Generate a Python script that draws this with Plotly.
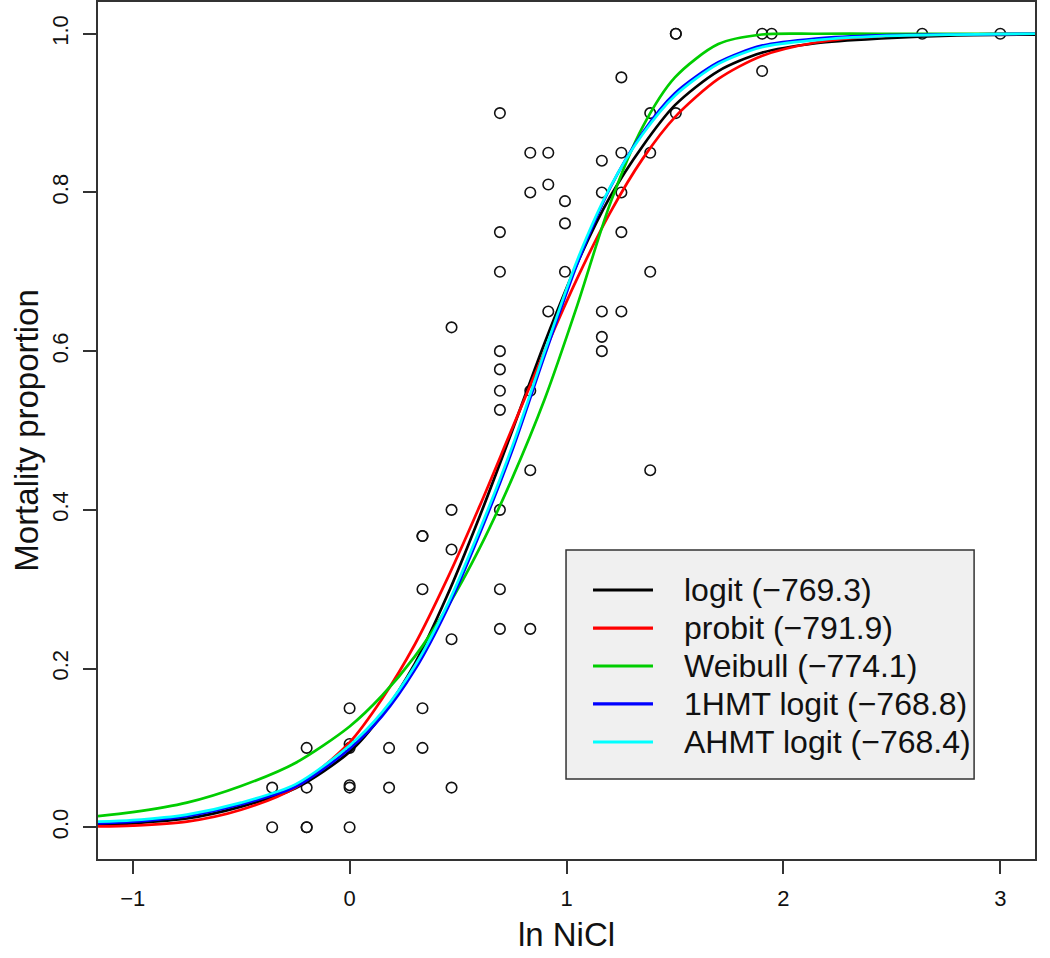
import plotly.graph_objects as go

# ---- observed data (ln NiCl concentration, mortality proportion) ----
obs_x = [
    -0.357, -0.357,
    -0.198, -0.198, -0.198, -0.198,
    0.0, 0.0, 0.0, 0.0, 0.0, 0.0,
    0.182, 0.182,
    0.336, 0.336, 0.336, 0.336, 0.336,
    0.470, 0.470, 0.470, 0.470, 0.470,
    0.693, 0.693, 0.693, 0.693, 0.693, 0.693, 0.693, 0.693, 0.693, 0.693,
    0.833, 0.833, 0.833, 0.833, 0.833,
    0.916, 0.916, 0.916,
    0.993, 0.993, 0.993,
    1.163, 1.163, 1.163, 1.163, 1.163,
    1.253, 1.253, 1.253, 1.253, 1.253,
    1.386, 1.386, 1.386, 1.386,
    1.504, 1.504, 1.504,
    1.902, 1.902,
    1.946,
    2.640,
    3.000,
]
obs_y = [
    0.05, 0.0,
    0.10, 0.05, 0.0, 0.0,
    0.15, 0.10, 0.105, 0.05, 0.053, 0.0,
    0.10, 0.05,
    0.367, 0.367, 0.30, 0.15, 0.10,
    0.63, 0.40, 0.35, 0.237, 0.05,
    0.90, 0.75, 0.70, 0.60, 0.577, 0.55, 0.526, 0.40, 0.30, 0.25,
    0.85, 0.80, 0.55, 0.45, 0.25,
    0.85, 0.81, 0.65,
    0.789, 0.761, 0.70,
    0.84, 0.80, 0.65, 0.618, 0.60,
    0.945, 0.85, 0.80, 0.75, 0.65,
    0.90, 0.85, 0.70, 0.45,
    1.0, 1.0, 0.90,
    1.0, 0.953,
    1.0,
    1.0,
    1.0,
]

# ---- fitted curves at these x positions ----
curve_x = [-1.16, -1.0, -0.75, -0.5, -0.25, 0.0, 0.15, 0.3, 0.45, 0.6, 0.75,
           0.9, 1.05, 1.2, 1.35, 1.5, 1.7, 1.9, 2.15, 2.45, 2.8, 3.16]

logit_y = [0.003, 0.005, 0.011, 0.026, 0.049, 0.095, 0.142, 0.206, 0.292, 0.392, 0.50,
           0.611, 0.711, 0.794, 0.858, 0.910, 0.953, 0.976, 0.988, 0.994, 0.998, 0.999]
probit_y = [0.001, 0.002, 0.007, 0.022, 0.050, 0.107, 0.162, 0.230, 0.313, 0.405, 0.503,
            0.60, 0.692, 0.774, 0.842, 0.895, 0.943, 0.972, 0.989, 0.997, 0.999, 1.0]
weibull_y = [0.014, 0.019, 0.031, 0.052, 0.081, 0.127, 0.166, 0.215, 0.277, 0.352, 0.44,
             0.54, 0.658, 0.785, 0.882, 0.945, 0.987, 0.999, 1.0, 1.0, 1.0, 1.0]
hmt1_y = [0.005, 0.007, 0.014, 0.029, 0.051, 0.099, 0.140, 0.198, 0.275, 0.37, 0.475,
          0.595, 0.71, 0.805, 0.875, 0.925, 0.964, 0.985, 0.994, 0.998, 0.999, 1.0]
ahmt_y = [0.007, 0.009, 0.016, 0.031, 0.054, 0.103, 0.145, 0.203, 0.28, 0.375, 0.48,
          0.60, 0.715, 0.806, 0.873, 0.922, 0.962, 0.983, 0.992, 0.997, 0.999, 1.0]

curve_names = ["logit (\u2212769.3)", "probit (\u2212791.9)", "Weibull (\u2212774.1)",
               "1HMT logit (\u2212768.8)", "AHMT logit (\u2212768.4)"]
curve_vals = [logit_y, probit_y, weibull_y, hmt1_y, ahmt_y]
curve_colors = ["#000000", "#ff0000", "#00cd00", "#0000ff", "#00ffff"]

x_ticks = [-1, 0, 1, 2, 3]
x_ticktext = ["\u22121", "0", "1", "2", "3"]
y_ticks = [0.0, 0.2, 0.4, 0.6, 0.8, 1.0]

FONT = "Liberation Sans, Arial, sans-serif"

fig = go.Figure()
fig.add_trace(go.Scatter(
    x=obs_x, y=obs_y, mode="markers", showlegend=False,
    marker=dict(symbol="circle-open", size=10.5, color="#111111", line=dict(width=1.6)),
))
for name, vals, col in zip(curve_names, curve_vals, curve_colors):
    fig.add_trace(go.Scatter(
        x=curve_x, y=vals, mode="lines", name=name, showlegend=False,
        line=dict(color=col, width=2.7, shape="spline", smoothing=0.8),
    ))

# ---- legend box drawn as in the R figure (frame, key lines, labels) ----
leg_x0, leg_x1, leg_y0, leg_y1 = 0.4995, 0.935, 0.0933, 0.3606
key_x0, key_x1, label_x = 0.5283, 0.5923, 0.6233
row_y = [0.3139, 0.2695, 0.2252, 0.1809, 0.1365]

fig.add_shape(type="rect", xref="paper", yref="paper",
              x0=leg_x0, x1=leg_x1, y0=leg_y0, y1=leg_y1,
              fillcolor="#f0f0f0", line=dict(color="#333333", width=1.5), layer="below")
for name, col, ry in zip(curve_names, curve_colors, row_y):
    fig.add_shape(type="line", xref="paper", yref="paper",
                  x0=key_x0, x1=key_x1, y0=ry, y1=ry,
                  line=dict(color=col, width=3.2))
    fig.add_annotation(xref="paper", yref="paper", x=label_x, y=ry, text=name,
                       showarrow=False, xanchor="left", yanchor="middle",
                       font=dict(family=FONT, size=32, color="#111111"))

axis_common = dict(
    showline=True, linecolor="#333333", linewidth=1.5, mirror=True,
    ticks="outside", ticklen=13, tickwidth=1.5, tickcolor="#333333",
    showgrid=False, zeroline=False, automargin=False,
    tickfont=dict(family=FONT, size=22, color="#111111"),
)

fig.update_layout(
    width=1050, height=958,
    margin=dict(l=98, r=15, t=2, b=99),
    paper_bgcolor="white", plot_bgcolor="white",
    font=dict(family=FONT, color="#111111"),
    showlegend=False,
    xaxis=dict(range=[-1.16, 3.16], tickvals=x_ticks, ticktext=x_ticktext,
               title=dict(text="ln NiCl", font=dict(family=FONT, size=33), standoff=13),
               ticklabelstandoff=6, **axis_common),
    yaxis=dict(range=[-0.04, 1.04], tickvals=y_ticks, tickformat=".1f", tickangle=-90,
               title=dict(text="Mortality proportion", font=dict(family=FONT, size=33), standoff=0),
               ticklabelstandoff=6, **axis_common),
)

fig.write_html("out.html", config={"displayModeBar": False},
               post_script="document.body.style.margin='0px';")
